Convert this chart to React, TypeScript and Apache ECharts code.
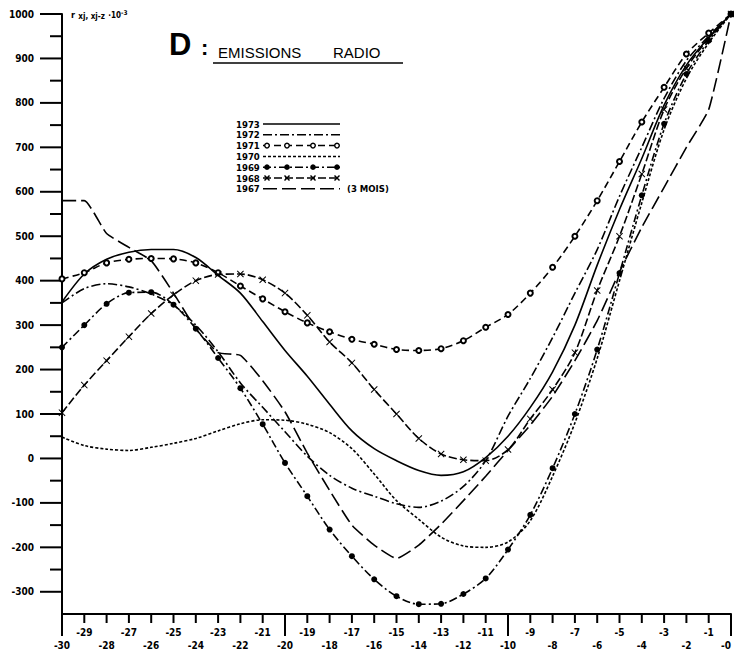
import React, { useEffect, useRef } from "react";
import * as echarts from "echarts";

const xValues = [-30, -29, -28, -27, -26, -25, -24, -23, -22, -21, -20, -19, -18, -17, -16, -15, -14, -13, -12, -11, -10, -9, -8, -7, -6, -5, -4, -3, -2, -1, 0];

const y1973 = [352, 415, 448, 464, 470, 470, 452, 412, 372, 308, 243, 185, 122, 62, 22, -5, -27, -38, -30, 2, 50, 115, 195, 300, 435, 560, 675, 795, 885, 947, 1000];
const y1972 = [350, 382, 393, 386, 370, 345, 300, 240, 170, 115, 60, 5, -38, -67, -85, -102, -110, -96, -63, -5, 95, 180, 272, 372, 470, 590, 700, 810, 895, 950, 1000];
const y1971 = [404, 418, 440, 448, 450, 449, 440, 418, 388, 359, 330, 305, 285, 268, 257, 245, 243, 247, 265, 295, 324, 372, 430, 500, 580, 668, 757, 835, 910, 957, 1000];
const y1970 = [48, 29, 21, 18, 25, 34, 45, 62, 78, 87, 86, 77, 58, 22, -35, -95, -137, -177, -197, -200, -188, -140, -40, 80, 225, 400, 575, 740, 855, 935, 1000];
const y1969 = [250, 300, 348, 373, 374, 346, 292, 226, 158, 77, -10, -85, -160, -220, -272, -310, -328, -327, -305, -270, -205, -127, -22, 100, 245, 417, 592, 753, 865, 940, 1000];
const y1968 = [103, 165, 220, 274, 326, 368, 400, 414, 415, 402, 372, 322, 262, 215, 155, 100, 45, 10, -3, -5, 20, 89, 155, 238, 378, 500, 640, 785, 878, 945, 1000];
const y1967 = [580, 580, 506, 475, 445, 372, 292, 238, 232, 175, 105, 12, -72, -150, -195, -225, -195, -148, -95, -40, 18, 75, 140, 220, 310, 420, 520, 610, 700, 785, 1000];

const yMajorTicks = [1000, 900, 800, 700, 600, 500, 400, 300, 200, 100, 0, -100, -200, -300];
const yMinorTicks = [950, 850, 750, 650, 550, 450, 350, 250, 150, 50, -50, -150, -250];
const xLongTicks = [-30, -20, -10, 0];

const legendYears = ["1973", "1972", "1971", "1970", "1969", "1968", "1967"];

const FONT = '"DejaVu Sans Condensed", "DejaVu Sans", sans-serif';
const TFONT = '"Liberation Sans", Arial, sans-serif';
const XMARK = "path://M0,1L1,0L5,4L9,0L10,1L6,5L10,9L9,10L5,6L1,10L0,9L4,5Z";

type Style = { dash: number[] | "solid"; symbol: string; size: number; smooth: number };

const styles: Style[] = [
  { dash: "solid", symbol: "none", size: 0, smooth: 0.3 },
  { dash: [9, 3, 2, 3], symbol: "none", size: 0, smooth: 0.3 },
  { dash: [7, 4], symbol: "emptyCircle", size: 5, smooth: 0.3 },
  { dash: [3, 2], symbol: "none", size: 0, smooth: 0.3 },
  { dash: [8, 3, 2, 3], symbol: "circle", size: 6, smooth: 0.3 },
  { dash: [8, 3], symbol: XMARK, size: 7, smooth: 0.3 },
  { dash: [14, 5], symbol: "none", size: 0, smooth: 0.15 },
];

const seriesData = [y1973, y1972, y1971, y1970, y1969, y1968, y1967];

export default function App() {
  const ref = useRef<HTMLDivElement>(null);
  useEffect(() => {
    if (!ref.current) return;
    const chart = echarts.init(ref.current, undefined, { renderer: "svg" });
    const axisLine = { color: "#000", width: 2 };
    const labelBase = { fontFamily: FONT, fontWeight: "bold" as const, fontSize: 10, color: "#000" };

    const series = seriesData.map((arr, i) => {
      const st = styles[i];
      return {
        name: legendYears[i],
        type: "line",
        data: xValues.map((x, j) => [x, arr[j]]),
        smooth: st.smooth,
        symbol: st.symbol,
        symbolSize: st.size,
        showSymbol: st.symbol !== "none",
        lineStyle: { color: "#000", width: 1.6, type: st.dash },
        itemStyle: { color: "#000", borderColor: "#000", borderWidth: st.symbol === "emptyCircle" ? 1.5 : 0 },
        emphasis: { disabled: true },
        z: 3,
      };
    });

    const graphic: any[] = [];
    graphic.push({ type: "text", x: 169, y: 44, style: { text: "D", fontFamily: TFONT, fontWeight: "bold", fontSize: 31, fill: "#000", verticalAlign: "middle" } });
    graphic.push({ type: "text", x: 201, y: 47, style: { text: ":", fontFamily: TFONT, fontWeight: "bold", fontSize: 22, fill: "#000", verticalAlign: "middle" } });
    graphic.push({ type: "text", x: 218, y: 52, style: { text: "EMISSIONS", fontFamily: TFONT, fontSize: 15, fill: "#000", verticalAlign: "middle" } });
    graphic.push({ type: "text", x: 333, y: 52, style: { text: "RADIO", fontFamily: TFONT, fontSize: 15, fill: "#000", verticalAlign: "middle" } });
    graphic.push({ type: "line", shape: { x1: 213, y1: 63, x2: 403, y2: 63 }, style: { stroke: "#000", lineWidth: 1.5 } });
    graphic.push({
      type: "text", x: 71, y: 15,
      style: {
        text: "{r|r} {s|xj, xj-z} {n|·10}{p|-3}",
        verticalAlign: "middle",
        rich: {
          r: { fontFamily: FONT, fontWeight: "bold", fontSize: 9, fill: "#000" },
          s: { fontFamily: FONT, fontWeight: "bold", fontSize: 8, fill: "#000", padding: [3, 0, 0, 0] },
          n: { fontFamily: FONT, fontWeight: "bold", fontSize: 8, fill: "#000" },
          p: { fontFamily: FONT, fontWeight: "bold", fontSize: 6.5, fill: "#000", padding: [0, 0, 5, 0] },
        },
      },
    });
    const lx1 = 263, lx2 = 340;
    const markerX = [267, 287, 313, 337];
    legendYears.forEach((yr, i) => {
      const yy = 124 + i * 10.8;
      const st = styles[i];
      graphic.push({ type: "text", x: 236, y: yy, style: { text: yr, fontFamily: FONT, fontWeight: "bold", fontSize: 9.5, fill: "#000", verticalAlign: "middle" } });
      graphic.push({ type: "line", shape: { x1: lx1, y1: yy, x2: lx2, y2: yy }, style: { stroke: "#000", lineWidth: 1.5, lineDash: st.dash === "solid" ? null : st.dash } });
      if (st.symbol === "emptyCircle") {
        markerX.forEach((mx) => graphic.push({ type: "circle", shape: { cx: mx, cy: yy, r: 2.3 }, style: { fill: "#fff", stroke: "#000", lineWidth: 1.4 } }));
      } else if (st.symbol === "circle") {
        markerX.forEach((mx) => graphic.push({ type: "circle", shape: { cx: mx, cy: yy, r: 2.8 }, style: { fill: "#000" } }));
      } else if (st.symbol === XMARK) {
        markerX.forEach((mx) => {
          graphic.push({ type: "line", shape: { x1: mx - 2.5, y1: yy - 2.5, x2: mx + 2.5, y2: yy + 2.5 }, style: { stroke: "#000", lineWidth: 1.4 } });
          graphic.push({ type: "line", shape: { x1: mx - 2.5, y1: yy + 2.5, x2: mx + 2.5, y2: yy - 2.5 }, style: { stroke: "#000", lineWidth: 1.4 } });
        });
      }
    });
    graphic.push({ type: "text", x: 347, y: 124 + 6 * 10.8, style: { text: "(3 MOIS)", fontFamily: FONT, fontWeight: "bold", fontSize: 9.5, fill: "#000", verticalAlign: "middle" } });

    const rich = {
      hi: { ...labelBase },
      lo: { ...labelBase, padding: [13, 0, 0, 0] },
      z: { ...labelBase, padding: [13, 10, 0, 0] },
    };

    chart.setOption({
      animation: false,
      backgroundColor: "#fff",
      grid: { left: 62, right: 2, top: 14, bottom: 38 },
      xAxis: {
        type: "value", min: -30, max: 0, interval: 1, position: "bottom",
        axisLine: { show: true, onZero: false, lineStyle: axisLine },
        axisTick: { show: false },
        axisLabel: {
          ...labelBase, margin: 13, rich,
          formatter: (v: number) => {
            if (v === 0) return "{z|-0}";
            const t = String(v);
            return Math.abs(v) % 2 === 0 ? `{lo|${t}}` : `{hi|${t}}`;
          },
        },
        splitLine: { show: false },
      },
      yAxis: {
        type: "value", min: -350, max: 1000, position: "left",
        axisLine: { show: true, onZero: false, lineStyle: axisLine },
        axisTick: { show: false },
        axisLabel: { ...labelBase, margin: 28, customValues: yMajorTicks, formatter: (v: number) => String(v) },
        splitLine: { show: false },
      },
      series,
      graphic,
    });

    // axis tick marks, placed through the chart's own scales
    const xPix = (v: number) => chart.convertToPixel({ xAxisIndex: 0 }, v) as number;
    const yPix = (v: number) => chart.convertToPixel({ yAxisIndex: 0 }, v) as number;
    const axisX = xPix(-30);
    const axisY = yPix(-350);
    const ticks: any[] = [];
    yMajorTicks.forEach((v) => {
      const py = yPix(v);
      ticks.push({ type: "line", shape: { x1: axisX - 22, y1: py, x2: axisX, y2: py }, style: { stroke: "#000", lineWidth: 2 } });
    });
    yMinorTicks.forEach((v) => {
      const py = yPix(v);
      ticks.push({ type: "line", shape: { x1: axisX - 12, y1: py, x2: axisX, y2: py }, style: { stroke: "#000", lineWidth: 2 } });
    });
    xValues.forEach((v) => {
      const px = xPix(v);
      const len = xLongTicks.indexOf(v) >= 0 ? 22 : 9;
      ticks.push({ type: "line", shape: { x1: px, y1: axisY, x2: px, y2: axisY + len }, style: { stroke: "#000", lineWidth: 2 } });
    });
    chart.setOption({ graphic: [...graphic, ...ticks] });

    return () => chart.dispose();
  }, []);
  return <div ref={ref} style={{ position: "fixed", left: 0, top: 0, width: 734, height: 652, background: "#fff" }} />;
}
